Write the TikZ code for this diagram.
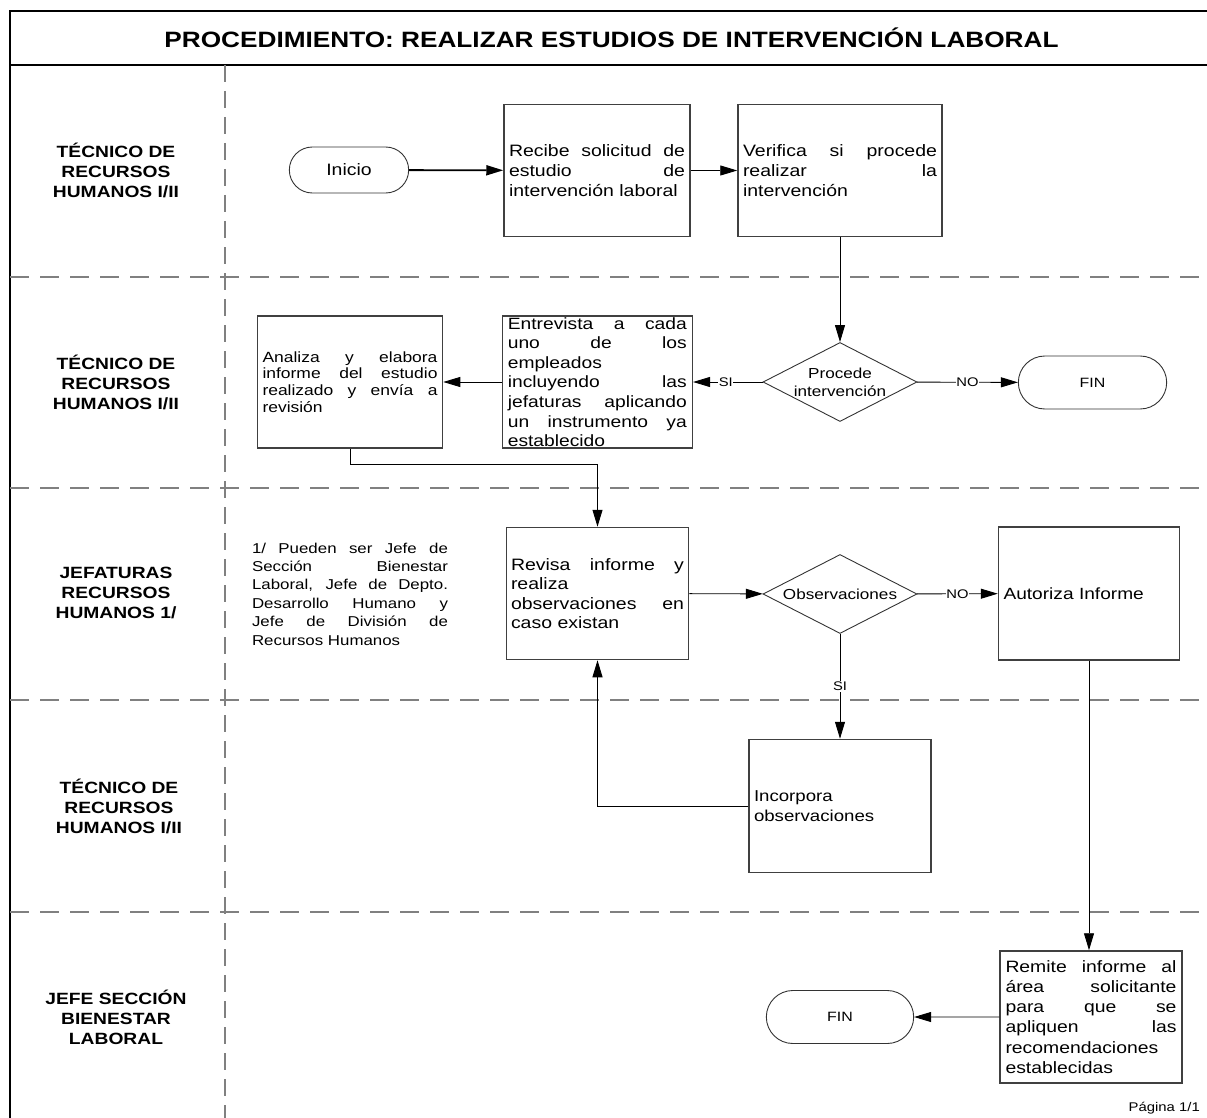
\documentclass[tikz,border=0pt]{standalone}
\usepackage{fontspec}
\setmainfont{Liberation Sans}[FakeStretch=1.18]
\usetikzlibrary{arrows.meta,shapes.geometric,shapes.misc}
\hyphenpenalty=10000
\exhyphenpenalty=10000
\tolerance=10000
\hbadness=10000
\hfuzz=20pt

\tikzset{
	caja/.style={draw=black!75, line width=1.5pt, rectangle, inner xsep=5pt, inner ysep=0pt, align=justify, font=\fontsize{16.5}{20}\selectfont},
	term/.style={draw=black!80, line width=0.9pt, rounded rectangle, font=\fontsize{13.5}{16}\selectfont},
	deci/.style={draw=black!80, line width=0.9pt, diamond, aspect=1.95, inner sep=-1pt, align=center, minimum width=154pt, minimum height=79pt, font=\fontsize{14.5}{18}\selectfont},
	flecha/.style={-{Triangle[length=17pt,width=10pt]}, line width=0.9pt},
	etiq/.style={fill=white, inner sep=0.8pt, font=\fontsize{12.5}{14}\selectfont},
	carril/.style={draw=black!50, line width=2.2pt, dash pattern=on 19pt off 11pt},
	actor/.style={align=center, font=\bfseries\fontsize{16.3}{20}\selectfont},
}

\begin{document}
\begin{tikzpicture}[x=1pt, y=-1pt]
	\useasboundingbox (0,0) rectangle (1207,1118);

	% Marco y titulo
		\draw[line width=2pt] (1207,11) -- (10,11) -- (10,1118);
		\draw[line width=2pt] (10,65) -- (1207,65);
		\node (titulo) at (611.5,38) {\bfseries\fontsize{22.2}{26}\selectfont PROCEDIMIENTO: REALIZAR ESTUDIOS DE INTERVENCIÓN LABORAL};

	% Carriles
		\foreach \y in {277,488,700,912}
			\draw[carril] (10,\y) -- (1207,\y);
		\draw[carril, dash pattern=on 17pt off 9pt, line width=2pt] (225,65) -- (225,1118);

		\node[actor] (c1) at (116,170) {TÉCNICO DE\\RECURSOS\\HUMANOS I/II};
		\node[actor] (c2) at (116,382) {TÉCNICO DE\\RECURSOS\\HUMANOS I/II};
		\node[actor] (c3) at (116,593) {JEFATURAS\\RECURSOS\\HUMANOS 1/};
		\node[actor] (c4) at (119,806) {TÉCNICO DE\\RECURSOS\\HUMANOS I/II};
		\node[actor] (c5) at (116,1017) {JEFE SECCIÓN\\BIENESTAR\\LABORAL};

	% Actividades
		\node[term, minimum width=126pt, minimum height=46pt, font=\fontsize{16.5}{20}\selectfont] (inicio) at (349,170) {Inicio};
		\node[caja, text width=176pt, minimum height=132pt] (recibe) at (597,170.5) {Recibe solicitud de\linebreak estudio de\linebreak intervención laboral};
		\node[caja, text width=194pt, minimum height=132pt] (verifica) at (840,170.5) {Verifica si procede\linebreak realizar la\linebreak intervención};
		\node[deci] (procede) at (840,382) {Procede\\intervención};
		\node[term, minimum width=155pt, minimum height=53pt] (fin1) at (1092.5,382.5) {FIN};
		\node[caja, text width=179pt, inner xsep=5.5pt, minimum height=132pt, font=\fontsize{16.3}{19.6}\selectfont] (entrevista) at (597.3,382) {Entrevista a cada\linebreak uno de los\linebreak empleados\linebreak incluyendo las\linebreak jefaturas aplicando\linebreak un instrumento ya\linebreak establecido};
		\node[caja, text width=175pt, minimum height=132pt, font=\fontsize{14.8}{16.8}\selectfont] (analiza) at (350,382) {Analiza y elabora\linebreak informe del estudio\linebreak realizado y envía a\linebreak revisión};
		\node[caja, text width=173pt, inner xsep=4.5pt, minimum height=132pt, font=\fontsize{16.5}{19.4}\selectfont] (revisa) at (597.5,593.5) {Revisa informe y\linebreak realiza\linebreak observaciones en\linebreak caso existan};
		\node[deci] (obs) at (840,594) {Observaciones};
		\node[caja, text width=171pt, align=left, minimum height=133pt, font=\fontsize{16.2}{20}\selectfont] (autoriza) at (1089,593.5) {Autoriza Informe};
		\node[caja, text width=172pt, align=left, minimum height=133pt, font=\fontsize{15.8}{19.7}\selectfont] (incorpora) at (840,806) {Incorpora\\observaciones};
		\node[caja, text width=171pt, inner xsep=5.5pt, minimum height=132pt, font=\fontsize{16.4}{20.2}\selectfont] (remite) at (1091,1017) {Remite informe al\linebreak área solicitante\linebreak para que se\linebreak apliquen las\linebreak recomendaciones\linebreak establecidas};
		\node[term, minimum width=154pt, minimum height=53pt] (fin2) at (840,1017) {FIN};

	% Nota y pagina
		\node[text width=196pt, align=justify, inner sep=0pt, font=\fontsize{14.3}{18.4}\selectfont] (nota) at (350,594) {1/ Pueden ser Jefe de\linebreak Sección Bienestar\linebreak Laboral, Jefe de Depto.\linebreak Desarrollo Humano y\linebreak Jefe de División de\linebreak Recursos Humanos};
		\node[font=\fontsize{12.6}{14}\selectfont, anchor=east, inner sep=0pt] (pagina) at (1200,1108) {Página 1/1};

	% Flujo
		\draw[flecha, line width=1.8pt] (inicio) -- (recibe);
		\draw[flecha] (recibe) -- (verifica);
		\draw[flecha] (verifica) -- (procede);
		\draw[flecha] (procede) -- node[etiq, pos=0.53] {SI} (entrevista);
		\draw[flecha] (procede) -- node[etiq] {NO} (fin1);
		\draw[flecha] (entrevista) -- (analiza);
		\draw[flecha] (analiza.south) -- ++(0,16) -| (revisa.north);
		\draw[flecha] (revisa) -- (obs);
		\draw[flecha] (obs) -- node[etiq] {NO} (autoriza);
		\draw[flecha] (obs) -- node[etiq] {SI} (incorpora);
		\draw[flecha] (incorpora.west) -| (revisa.south);
		\draw[flecha] (autoriza.south) -- (autoriza.south |- remite.north);
		\draw[flecha] (remite) -- (fin2);
\end{tikzpicture}
\end{document}
